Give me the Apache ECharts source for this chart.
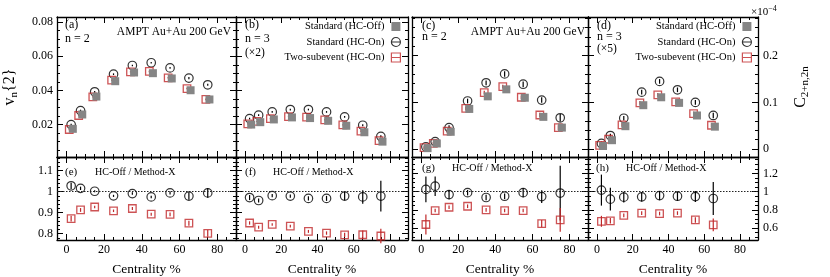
<!DOCTYPE html>
<html><head><meta charset="utf-8">
<script src="https://cdn.jsdelivr.net/npm/echarts@6/dist/echarts.min.js"></script>
<style>html,body{margin:0;padding:0;background:#fff}#c{width:830px;height:277px}</style>
</head><body><div id="c"></div>
<script>
// ---------------- data ----------------
const cent9 = [2.5, 7.5, 15, 25, 35, 45, 55, 65, 75];
const cent8 = [2.5, 7.5, 15, 25, 35, 45, 55, 65];

// (a) n=2, v_n{2}
const aOff = [0.0175, 0.0259, 0.0364, 0.0454, 0.0505, 0.0501, 0.0470, 0.0401, 0.0347];
const aOn  = [0.0200, 0.0282, 0.0392, 0.0495, 0.0546, 0.0562, 0.0532, 0.0472, 0.0433];
const aSub = [0.0171, 0.0253, 0.0362, 0.0460, 0.0509, 0.0511, 0.0474, 0.0411, 0.0348];
const aOnErr  = [0.0005, 0.0005, 0.0005, 0.0005, 0.0005, 0.0005, 0.0005, 0.0006, 0.0006];
const aSubErr = [0.0004, 0.0004, 0.0004, 0.0004, 0.0004, 0.0004, 0.0004, 0.0004, 0.0005];
// (b) n=3 (x2)
const bOff = [0.0200, 0.0214, 0.0230, 0.0242, 0.0238, 0.0222, 0.0193, 0.0155, 0.0100];
const bOn  = [0.0235, 0.0255, 0.0274, 0.0288, 0.0288, 0.0274, 0.0245, 0.0196, 0.0131];
const bSub = [0.0204, 0.0219, 0.0235, 0.0247, 0.0243, 0.0228, 0.0198, 0.0161, 0.0106];
const bOnErr  = [0.0005, 0.0005, 0.0005, 0.0005, 0.0005, 0.0005, 0.0005, 0.0006, 0.0007];
const bSubErr = [0.0004, 0.0004, 0.0004, 0.0004, 0.0004, 0.0004, 0.0004, 0.0005, 0.0005];
// (c) n=2, C_{2+n,2n} (x1e-4)
const cOff = [0.002, 0.012, 0.037, 0.086, 0.113, 0.128, 0.110, 0.069, 0.046];
const cOn  = [0.005, 0.016, 0.046, 0.103, 0.142, 0.161, 0.139, 0.105, 0.067];
const cSub = [0.003, 0.012, 0.0385, 0.087, 0.121, 0.134, 0.111, 0.073, 0.046];
const cOnErr  = [0.004, 0.004, 0.005, 0.005, 0.005, 0.006, 0.006, 0.006, 0.008];
const cSubErr = [0.003, 0.003, 0.004, 0.004, 0.004, 0.004, 0.004, 0.005, 0.005];
// (d) n=3 (x5)
const dOff = [0.0066, 0.019, 0.049, 0.094, 0.111, 0.099, 0.072, 0.048];
const dOn  = [0.012, 0.029, 0.066, 0.122, 0.145, 0.127, 0.100, 0.072];
const dSub = [0.008, 0.021, 0.052, 0.099, 0.116, 0.101, 0.076, 0.051];
const dOnErr  = [0.004, 0.004, 0.005, 0.005, 0.005, 0.005, 0.005, 0.006];
const dSubErr = [0.003, 0.003, 0.004, 0.004, 0.004, 0.004, 0.004, 0.004];

// ratio panels: HC-Off / Method-X
const eOn     = [1.028, 1.016, 1.002, 0.980, 0.991, 0.975, 0.994, 0.979, 0.994];
const eOnErr  = [0.015, 0.008, 0.005, 0.005, 0.006, 0.006, 0.008, 0.018, 0.023];
const eSub    = [0.872, 0.913, 0.927, 0.909, 0.920, 0.893, 0.892, 0.850, 0.802];
const eSubErr = [0.014, 0.009, 0.006, 0.006, 0.007, 0.007, 0.009, 0.012, 0.016];
const fOn     = [0.972, 0.958, 0.981, 0.979, 0.968, 0.968, 0.979, 0.975, 0.979];
const fOnErr  = [0.012, 0.010, 0.008, 0.008, 0.010, 0.012, 0.020, 0.032, 0.073];
const fSub    = [0.851, 0.831, 0.844, 0.836, 0.811, 0.803, 0.794, 0.795, 0.789];
const fSubErr = [0.008, 0.007, 0.006, 0.006, 0.007, 0.008, 0.010, 0.020, 0.035];
const gOn     = [1.025, 1.060, 0.968, 0.989, 0.936, 0.950, 0.989, 0.946, 0.985];
const gOnErr  = [0.140, 0.107, 0.050, 0.030, 0.030, 0.030, 0.050, 0.070, 0.300];
const gSub    = [0.640, 0.793, 0.829, 0.840, 0.800, 0.793, 0.793, 0.650, 0.690];
const gSubErr = [0.110, 0.020, 0.020, 0.020, 0.020, 0.020, 0.020, 0.040, 0.130];
const hOn     = [1.017, 0.918, 0.940, 0.943, 0.957, 0.950, 0.946, 0.925];
const hOnErr  = [0.170, 0.125, 0.060, 0.050, 0.050, 0.050, 0.060, 0.180];
const hSub    = [0.675, 0.680, 0.740, 0.765, 0.760, 0.765, 0.690, 0.636];
const hSubErr = [0.060, 0.030, 0.020, 0.020, 0.020, 0.020, 0.030, 0.070];

// tick labels
const xTicks = [0, 20, 40, 60, 80];
const vTicks = [0.02, 0.04, 0.06, 0.08];
const cTicks = [0, 0.1, 0.2];
const rLTicks = [0.8, 0.9, 1, 1.1];
const rRTicks = [0.6, 0.8, 1, 1.2];

const names = ['Standard (HC-Off)', 'Standard (HC-On)', 'Two-subevent (HC-On)'];

// ---------------- styling ----------------
const FONT = '"Liberation Serif","DejaVu Serif",serif';
const RED = '#c0282a';
const GRAY = '#858585';
const OFF_DX = 0.9, SUB_DX = -1.0;

function range(a, b, s) { const r = []; for (let v = a; v <= b + 1e-9; v += s) r.push(+v.toFixed(4)); return r; }
const xMinor = range(-5, 90, 5);
const vMinor = range(0.005, 0.08, 0.005);
const cMinor = range(0, 0.28, 0.02);
const rLMinor = range(0.78, 1.16, 0.02);
const rRMinor = range(0.5, 1.35, 0.05);

const grids = [
  {left: 57,  top: 17,  width: 179, height: 140},
  {left: 236, top: 17,  width: 172, height: 140},
  {left: 412, top: 17,  width: 176, height: 140},
  {left: 588, top: 17,  width: 170, height: 140},
  {left: 57,  top: 157, width: 179, height: 85},
  {left: 236, top: 157, width: 172, height: 85},
  {left: 412, top: 157, width: 176, height: 85},
  {left: 588, top: 157, width: 170, height: 85}
];

const xAxis = [], yAxis = [], series = [];
const lineStyle = {color: '#000', width: 1.3};
const tickLine = {color: '#000', width: 1};
const labelStyle = {fontFamily: FONT, fontSize: 12, color: '#000'};

function addX(gi, labeled) {
  const base = {gridIndex: gi, type: 'value', min: -5, max: 90, splitLine: {show: false}};
  const idx = xAxis.length;
  const mk = (pos, major) => Object.assign({}, base, {
    position: pos,
    axisLine: {show: major, onZero: false, lineStyle},
    axisTick: {show: true, inside: true, length: major ? 6 : 3, customValues: major ? xTicks : xMinor, lineStyle: tickLine},
    axisLabel: Object.assign({show: major && labeled && pos === 'bottom', customValues: xTicks, margin: 4}, labelStyle),
    name: (major && labeled && pos === 'bottom') ? 'Centrality %' : '',
    nameLocation: 'middle', nameGap: 22,
    nameTextStyle: {fontFamily: FONT, fontSize: 13.5, color: '#000'}
  });
  xAxis.push(mk('bottom', true), mk('bottom', false), mk('top', true), mk('top', false));
  return idx;
}
function addY(gi, r, major, minor, labelSide, nm) {
  const base = {gridIndex: gi, type: 'value', min: r[0], max: r[1], splitLine: {show: false}};
  const idx = yAxis.length;
  const mk = (pos, isMajor) => Object.assign({}, base, {
    position: pos,
    axisLine: {show: isMajor, onZero: false, lineStyle},
    axisTick: {show: true, inside: true, length: isMajor ? 6 : 3, customValues: isMajor ? major : minor, lineStyle: tickLine},
    axisLabel: Object.assign({show: isMajor && pos === labelSide, customValues: major, margin: pos === 'left' ? 4 : 5}, labelStyle),
    name: (isMajor && nm && pos === nm.side) ? nm.text : '',
    nameLocation: 'middle', nameGap: nm ? nm.gap : 0, nameRotate: 90,
    nameTextStyle: {fontFamily: FONT, fontSize: 16, color: '#000',
      rich: {s: {fontFamily: FONT, fontSize: 11, color: '#000', padding: [9, 0, 0, 0]}}}
  });
  yAxis.push(mk('left', true), mk('left', false), mk('right', true), mk('right', false));
  return idx;
}

function errSeries(xi, yi, xs, ys, es, color, dx) {
  return {
    type: 'custom', xAxisIndex: xi, yAxisIndex: yi, silent: true, z: 2,
    data: xs.map((x, i) => [x + dx, ys[i], es[i]]),
    encode: {x: 0, y: 1},
    renderItem: function (params, api) {
      const x = api.value(0), y = api.value(1), e = api.value(2);
      const p1 = api.coord([x, y - e]), p2 = api.coord([x, y + e]);
      return {type: 'line', shape: {x1: p1[0], y1: p1[1], x2: p2[0], y2: p2[1]},
        style: {stroke: color, lineWidth: 1.2}};
    }
  };
}
function scat(name, xi, yi, xs, ys, dx, kind, extra) {
  let sym, st, size;
  if (kind === 'off') { sym = 'rect'; st = {color: GRAY, opacity: 1}; size = 8; }
  else if (kind === 'on') { sym = 'circle'; st = {color: 'rgba(0,0,0,0)', borderColor: '#000', borderWidth: 1.2}; size = 8.5; }
  else { sym = 'rect'; st = {color: 'rgba(0,0,0,0)', borderColor: RED, borderWidth: 1.3}; size = 7.5; }
  return Object.assign({
    name, type: 'scatter', xAxisIndex: xi, yAxisIndex: yi, symbol: sym, symbolSize: size,
    itemStyle: st, silent: true, z: kind === 'off' ? 4 : 3,
    data: xs.map((x, i) => [x + dx, ys[i]])
  }, extra || {});
}

function topPanel(gi, yr, major, minor, labelSide, nm, xs, off, on, onErr, sub, subErr) {
  const xi = addX(gi, false);
  const yi = addY(gi, yr, major, minor, labelSide, nm);
  series.push(errSeries(xi, yi, xs, on, onErr, '#000', 0));
  series.push(errSeries(xi, yi, xs, sub, subErr, RED, SUB_DX));
  series.push(scat(names[1], xi, yi, xs, on, 0, 'on'));
  series.push(scat(names[2], xi, yi, xs, sub, SUB_DX, 'sub'));
  series.push(scat(names[0], xi, yi, xs, off, OFF_DX, 'off'));
}
function ratioPanel(gi, yr, major, minor, labelSide, xs, on, onErr, sub, subErr) {
  const xi = addX(gi, true);
  const yi = addY(gi, yr, major, minor, labelSide, null);
  series.push(errSeries(xi, yi, xs, on, onErr, '#000', 0));
  series.push(errSeries(xi, yi, xs, sub, subErr, RED, 0));
  series.push(scat('ratio-on-' + gi, xi, yi, xs, on, 0, 'on', {
    markLine: {silent: true, symbol: 'none', label: {show: false}, animation: false,
      lineStyle: {type: [1.5, 1.5], color: '#222', width: 1}, data: [{yAxis: 1}]}
  }));
  series.push(scat('ratio-sub-' + gi, xi, yi, xs, sub, 0, 'sub'));
}

const vName = {side: 'left', text: 'v{s|n}{2}', gap: 37};
const cName = {side: 'right', text: 'C{s|2+n,2n}', gap: 33};

topPanel(0, [0.001, 0.083], vTicks, vMinor, 'left', vName, cent9, aOff, aOn, aOnErr, aSub, aSubErr);
topPanel(1, [0.001, 0.083], vTicks, vMinor, null, null, cent9, bOff, bOn, bOnErr, bSub, bSubErr);
topPanel(2, [-0.017, 0.283], cTicks, cMinor, null, null, cent9, cOff, cOn, cOnErr, cSub, cSubErr);
topPanel(3, [-0.017, 0.283], cTicks, cMinor, 'right', cName, cent8, dOff, dOn, dOnErr, dSub, dSubErr);
ratioPanel(4, [0.77, 1.165], rLTicks, rLMinor, 'left', cent9, eOn, eOnErr, eSub, eSubErr);
ratioPanel(5, [0.77, 1.165], rLTicks, rLMinor, null, cent9, fOn, fOnErr, fSub, fSubErr);
ratioPanel(6, [0.47, 1.38], rRTicks, rRMinor, null, cent9, gOn, gOnErr, gSub, gSubErr);
ratioPanel(7, [0.47, 1.38], rRTicks, rRMinor, 'right', cent8, hOn, hOnErr, hSub, hSubErr);

const legendData = [
  {name: names[0], icon: 'rect', itemStyle: {color: GRAY, borderWidth: 0}},
  {name: names[1], icon: 'path://M1,5A4,4,0,1,1,9,5A4,4,0,1,1,1,5ZM1,5L9,5',
    itemStyle: {color: 'rgba(0,0,0,0)', borderColor: '#000', borderWidth: 1.2}},
  {name: names[2], icon: 'path://M1,1L9,1L9,9L1,9ZM1,5L9,5',
    itemStyle: {color: 'rgba(0,0,0,0)', borderColor: RED, borderWidth: 1.2}}
];
function legendAt(right) {
  return {orient: 'vertical', right, top: 21, align: 'right', itemWidth: 9, itemHeight: 9,
    itemGap: 4.5, padding: 0, selectedMode: false, data: legendData,
    textStyle: {fontFamily: FONT, fontSize: 10.5, color: '#000', padding: [0, 2, 0, 0]}};
}

function txt(x, y, text, size, align, rich) {
  return {type: 'text', x, y, silent: true, z: 100,
    style: {text, font: size + 'px ' + FONT, fill: '#000', align: align || 'left', verticalAlign: 'middle', rich: rich}};
}
const hc = 'HC-Off / Method-X';
const graphic = [
  txt(65, 25, '(a)', 12), txt(65, 39, 'n = 2', 12), txt(231, 32, 'AMPT Au+Au 200 GeV', 11.5, 'right'),
  txt(245, 25, '(b)', 12), txt(245, 39, 'n = 3', 12), txt(245, 53, '(\u00d72)', 11.5),
  txt(422, 26, '(c)', 12), txt(422, 37, 'n = 2', 12), txt(585, 32, 'AMPT Au+Au 200 GeV', 11.5, 'right'),
  txt(597, 26, '(d)', 12), txt(597, 37, 'n = 3', 12), txt(597, 49, '(\u00d75)', 11.5),
  txt(65, 172, '(e)', 11), txt(95, 172, hc, 10),
  txt(245, 172, '(f)', 11), txt(273, 172, hc, 10),
  txt(422, 168, '(g)', 11), txt(452, 168, hc, 10),
  txt(596, 168, '(h)', 11), txt(626, 168, hc, 10),
  txt(751, 12, '\u00d710{sup|\u22124}', 11, 'left',
    {sup: {fontFamily: FONT, fontSize: 8, color: '#000', padding: [0, 0, 7, 0]}})
];

const chart = echarts.init(document.getElementById('c'), null, {renderer: 'canvas'});
chart.setOption({
  animation: false,
  backgroundColor: '#fff',
  grid: grids,
  xAxis, yAxis, series,
  legend: [legendAt(429), legendAt(78)],
  graphic
});
</script></body></html>
